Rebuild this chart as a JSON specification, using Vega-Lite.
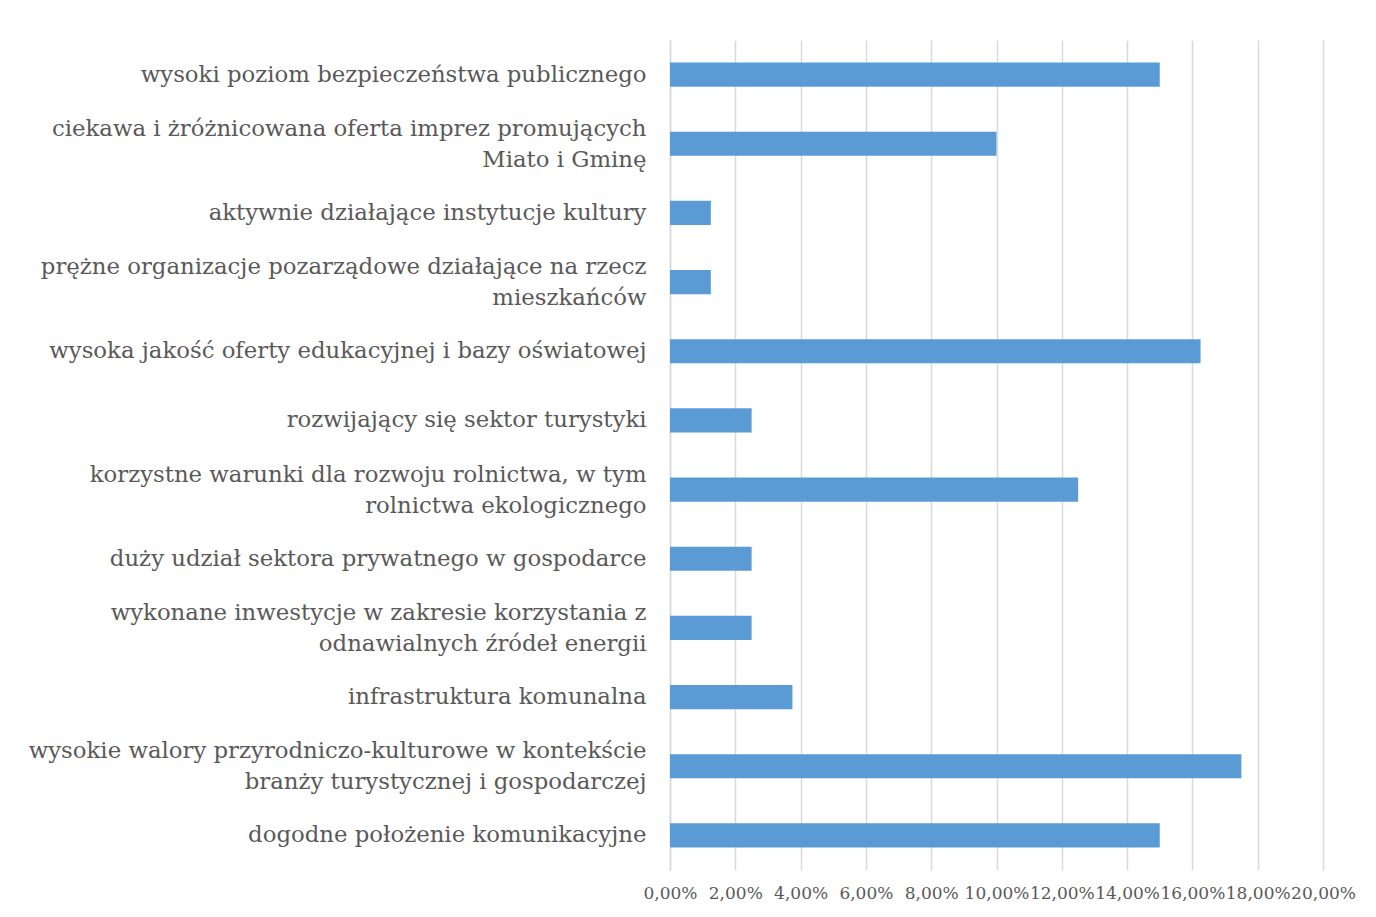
{
  "$schema": "https://vega.github.io/schema/vega-lite/v6.json",
  "autosize": "none",
  "padding": {"left": 670, "top": 40, "right": 53, "bottom": 47},
  "width": 653,
  "height": 830,
  "background": "white",
  "config": {"view": {"stroke": null}},
  "data": {
    "values": [
      {"kategoria": "wysoki poziom bezpieczeństwa publicznego", "wartosc": 0.15},
      {"kategoria": "ciekawa i żróżnicowana oferta imprez promujących|Miato i Gminę", "wartosc": 0.10},
      {"kategoria": "aktywnie działające instytucje kultury", "wartosc": 0.0125},
      {"kategoria": "prężne organizacje pozarządowe działające na rzecz|mieszkańców", "wartosc": 0.0125},
      {"kategoria": "wysoka jakość oferty edukacyjnej i bazy oświatowej", "wartosc": 0.1625},
      {"kategoria": "rozwijający się sektor turystyki ", "wartosc": 0.025},
      {"kategoria": "korzystne warunki dla rozwoju rolnictwa, w tym|rolnictwa ekologicznego", "wartosc": 0.125},
      {"kategoria": "duży udział sektora prywatnego w gospodarce", "wartosc": 0.025},
      {"kategoria": "wykonane inwestycje w zakresie korzystania z|odnawialnych źródeł energii", "wartosc": 0.025},
      {"kategoria": "infrastruktura komunalna", "wartosc": 0.0375},
      {"kategoria": "wysokie walory przyrodniczo-kulturowe w kontekście|branży turystycznej i gospodarczej", "wartosc": 0.175},
      {"kategoria": "dogodne położenie komunikacyjne", "wartosc": 0.15}
    ]
  },
  "mark": {"type": "bar", "color": "#5B9BD5"},
  "encoding": {
    "y": {
      "field": "kategoria",
      "type": "nominal",
      "sort": null,
      "scale": {"paddingInner": 0.65, "paddingOuter": 0.325},
      "axis": {
        "title": null,
        "ticks": false,
        "domain": true,
        "domainColor": "#d9d9d9",
        "domainWidth": 1.5,
        "labelFont": "DejaVu Serif",
        "labelFontSize": 22.8,
        "labelColor": "#595959",
        "labelPadding": 24,
        "labelLimit": 700,
        "labelLineHeight": 31,
        "labelOffset": {"condition": {"test": "indexof(datum.value, '|') >= 0", "value": -15}, "value": 0},
        "labelExpr": "split(datum.label, '|')"
      }
    },
    "x": {
      "field": "wartosc",
      "type": "quantitative",
      "scale": {"domain": [0, 0.2], "nice": false},
      "axis": {
        "title": null,
        "values": [0, 0.02, 0.04, 0.06, 0.08, 0.1, 0.12, 0.14, 0.16, 0.18, 0.2],
        "ticks": false,
        "domain": false,
        "grid": true,
        "gridColor": "#d9d9d9",
        "gridWidth": 1.5,
        "labelFont": "DejaVu Serif",
        "labelFontSize": 17,
        "labelColor": "#595959",
        "labelPadding": 15,
        "labelOverlap": false,
        "labelFlush": false,
        "labelExpr": "replace(format(datum.value, '.2%'), '.', ',')"
      }
    }
  }
}
